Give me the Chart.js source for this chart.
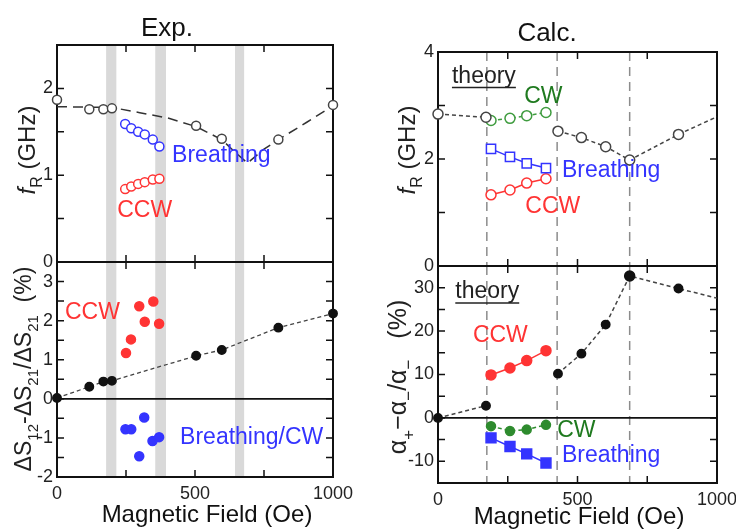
<!DOCTYPE html>
<html>
<head>
<meta charset="utf-8">
<script src="https://cdn.jsdelivr.net/npm/chart.js@4.4.1/dist/chart.umd.min.js"></script>
<style>
  html, body { margin: 0; padding: 0; background: #fff; }
  #wrap { position: relative; width: 736px; height: 530px; overflow: hidden; }
  canvas { position: absolute; left: 0; top: 0; }
</style>
</head>
<body>
<div id="wrap">
  <canvas id="expFr" width="736" height="530"></canvas>
  <canvas id="expAsym" width="736" height="530"></canvas>
  <canvas id="calcFr" width="736" height="530"></canvas>
  <canvas id="calcAsym" width="736" height="530"></canvas>
</div>
<script>
// ---- Exp. : resonance frequency (GHz) ----
const expField = [0, 117, 168, 199, 504, 597, 802, 1000];
const expFr = [1.87, 1.76, 1.76, 1.77, 1.57, 1.42, 1.41, 1.81];
const expGuideField = [0, 200, 300, 400, 504, 597, 640, 690, 750, 802, 905, 1000];
const expGuideFr = [1.79, 1.78, 1.72, 1.66, 1.56, 1.41, 1.28, 1.14, 1.30, 1.41, 1.61, 1.80];
const expModeField = [247, 269, 294, 318, 347, 371];
const expBreathFr = [1.59, 1.54, 1.50, 1.47, 1.41, 1.33];
const expCcwFr = [0.84, 0.87, 0.90, 0.92, 0.95, 0.96];

// ---- Exp. : nonreciprocity (%) ----
const expAsym = [0.02, 0.31, 0.44, 0.46, 1.10, 1.25, 1.82, 2.18];
const expCcwAsymField = [250, 268, 298, 318, 349, 370];
const expCcwAsym = [1.17, 1.52, 2.37, 1.97, 2.49, 1.92];
const expBreathAsymField = [248, 269, 298, 316, 346, 370];
const expBreathAsym = [-0.78, -0.78, -1.47, -0.48, -1.08, -0.98];

// ---- Calc. ----
const calcLowField = [0, 172];
const calcHighField = [430, 514, 601, 687, 862, 1000];
const calcFrLow = [2.84, 2.78];
const calcFrHigh = [2.52, 2.40, 2.23, 1.98, 2.46, 2.79];
const calcAsymLow = [0, 2.8];
const calcAsymHigh = [10.2, 14.8, 21.5, 32.7, 29.8, 27.6];
const calcModeField = [190, 258, 318, 387];
const calcCwFr = [2.72, 2.76, 2.81, 2.87];
const calcBreathFr = [2.19, 2.04, 1.92, 1.83];
const calcCcwFr = [1.33, 1.42, 1.55, 1.63];
const calcCcwAsym = [9.9, 11.5, 13.2, 15.5];
const calcCwAsym = [-1.9, -3.0, -2.7, -1.6];
const calcBreathAsym = [-4.6, -6.6, -8.3, -10.4];

// shaded field ranges (Exp.) and transition lines (Calc.)
const expBands = [[178, 215], [356, 395], [645, 678]];
const calcTransitions = [175, 427, 687];

const FONT = '"Liberation Sans", Arial, Helvetica, sans-serif';
const W = 736, H = 530;
const BLUE = '#3434ff', RED = '#ff3434', GREEN = '#3f9c3f', DKGREEN = '#1f7a1f';

Chart.defaults.font.family = FONT;

function pts(xs, ys) {
  return xs.map((x, i) => ({ x: x, y: ys[i] }));
}

function marks(data, color, opts) {
  return Object.assign({
    data: data,
    showLine: false,
    pointStyle: 'circle',
    pointRadius: 4.5,
    pointBorderWidth: 1.5,
    pointBorderColor: color,
    pointBackgroundColor: color,
    borderColor: color,
    borderWidth: 1.5,
    clip: false,
    order: 1
  }, opts || {});
}

function richText(ctx, parts, x, y, size, rotate) {
  ctx.save();
  ctx.translate(x, y);
  if (rotate) ctx.rotate(-Math.PI / 2);
  ctx.textBaseline = 'alphabetic';
  ctx.textAlign = 'left';
  const fontOf = p => (p.it ? 'italic ' : '') + (p.sub ? Math.round(size * 0.66) : size) + 'px ' + FONT;
  let total = 0;
  parts.forEach(p => { ctx.font = fontOf(p); total += ctx.measureText(p.t).width; });
  let cx = -total / 2;
  parts.forEach(p => {
    ctx.font = fontOf(p);
    ctx.fillText(p.t, cx, p.sub ? size * 0.3 : 0);
    cx += ctx.measureText(p.t).width;
  });
  ctx.restore();
}

function deco(cfg) {
  return {
    id: 'deco',
    beforeDatasetsDraw(chart) {
      const ctx = chart.ctx, a = chart.chartArea, x = chart.scales.x, y = chart.scales.y;
      ctx.save();
      ctx.fillStyle = '#d9d9d9';
      (cfg.bands || []).forEach(b => {
        const x0 = x.getPixelForValue(b[0]), x1 = x.getPixelForValue(b[1]);
        ctx.fillRect(x0, a.top, x1 - x0, a.bottom - a.top);
      });
      ctx.strokeStyle = '#8c8c8c';
      ctx.lineWidth = 1.5;
      ctx.setLineDash([9, 6]);
      (cfg.vlines || []).forEach(v => {
        const px = x.getPixelForValue(v);
        ctx.beginPath(); ctx.moveTo(px, a.top); ctx.lineTo(px, a.bottom); ctx.stroke();
      });
      ctx.setLineDash([]);
      ctx.strokeStyle = '#111';
      if (cfg.zero) {
        const py = y.getPixelForValue(0);
        ctx.lineWidth = 1.8;
        ctx.beginPath(); ctx.moveTo(a.left, py); ctx.lineTo(a.right, py); ctx.stroke();
      }
      ctx.lineWidth = 2;
      ctx.strokeRect(a.left, a.top, a.right - a.left, a.bottom - a.top);
      ctx.lineWidth = 1.5;
      const tl = 7;
      y.ticks.forEach(t => {
        if (t.value <= y.min || t.value >= y.max) return;
        const py = y.getPixelForValue(t.value);
        ctx.beginPath();
        ctx.moveTo(a.left, py); ctx.lineTo(a.left + tl, py);
        ctx.moveTo(a.right, py); ctx.lineTo(a.right - tl, py);
        ctx.stroke();
      });
      x.ticks.forEach(t => {
        if (t.value <= x.min || t.value >= x.max) return;
        const px = x.getPixelForValue(t.value);
        ctx.beginPath();
        ctx.moveTo(px, a.top); ctx.lineTo(px, a.top + tl);
        ctx.moveTo(px, a.bottom); ctx.lineTo(px, a.bottom - tl);
        ctx.stroke();
      });
      ctx.restore();
    },
    afterDatasetsDraw(chart) {
      const ctx = chart.ctx, x = chart.scales.x, y = chart.scales.y;
      ctx.save();
      ctx.textBaseline = 'middle';
      ctx.textAlign = 'left';
      (cfg.notes || []).forEach(n => {
        const px = x.getPixelForValue(n.x), py = y.getPixelForValue(n.y);
        ctx.font = '23px ' + FONT;
        ctx.fillStyle = n.color;
        ctx.fillText(n.t, px, py);
        if (n.underline) {
          const w = ctx.measureText(n.t).width;
          ctx.strokeStyle = n.color;
          ctx.lineWidth = 1.5;
          ctx.beginPath(); ctx.moveTo(px, py + 11); ctx.lineTo(px + w, py + 11); ctx.stroke();
        }
      });
      ctx.fillStyle = '#111';
      ctx.textAlign = 'center';
      (cfg.captions || []).forEach(c => {
        ctx.font = c.size + 'px ' + FONT;
        ctx.fillText(c.t, c.x, c.y);
      });
      if (cfg.yTitle) {
        ctx.fillStyle = '#222';
        richText(ctx, cfg.yTitle.parts, cfg.yTitle.x, cfg.yTitle.y, cfg.yTitle.size, true);
      }
      ctx.restore();
    }
  };
}

function makePanel(id, box, cfg) {
  const yw = 40;
  const xh = cfg.showX ? 30 : 0;
  return new Chart(document.getElementById(id), {
    type: 'scatter',
    data: { datasets: cfg.datasets },
    options: {
      responsive: false,
      animation: false,
      devicePixelRatio: 1,
      layout: { padding: { left: box.l - yw, top: box.t, right: W - box.r, bottom: H - box.b - xh } },
      plugins: { legend: { display: false }, tooltip: { enabled: false } },
      elements: { line: { tension: 0 } },
      scales: {
        x: {
          type: 'linear', min: 0, max: 1000, display: cfg.showX,
          grid: { display: false, drawTicks: false }, border: { display: false },
          ticks: {
            stepSize: 250, autoSkip: false, maxRotation: 0, padding: 6,
            color: '#222', font: { size: 18 },
            callback: v => (v % 500 === 0 ? String(v) : '')
          },
          afterFit: s => { s.height = xh; s.paddingLeft = 0; s.paddingRight = 0; }
        },
        y: {
          type: 'linear', min: cfg.yMin, max: cfg.yMax,
          grid: { display: false, drawTicks: false }, border: { display: false },
          ticks: {
            stepSize: cfg.yStep, autoSkip: false, padding: 4,
            color: '#222', font: { size: 18 },
            callback: v => (Math.abs(v % cfg.yLabelStep) < 1e-9 ? String(v) : '')
          },
          afterFit: s => { s.width = yw; s.paddingTop = 0; s.paddingBottom = 0; }
        }
      }
    },
    plugins: [deco(cfg)]
  });
}

// ---------- Exp. f_R ----------
makePanel('expFr', { l: 57, t: 45, r: 333, b: 262 }, {
  showX: false, yMin: 0, yMax: 2.5, yStep: 0.5, yLabelStep: 1,
  bands: expBands,
  datasets: [
    marks(pts(expGuideField, expGuideFr), '#333', { showLine: true, pointRadius: 0, borderDash: [10, 6], order: 3 }),
    marks(pts(expField, expFr), '#444', { pointBackgroundColor: '#fff', pointRadius: 4.5 }),
    marks(pts(expModeField, expBreathFr), BLUE, { pointBackgroundColor: '#fff' }),
    marks(pts(expModeField, expCcwFr), RED, { pointBackgroundColor: '#fff' })
  ],
  notes: [
    { t: 'Breathing', x: 417, y: 1.23, color: BLUE },
    { t: 'CCW', x: 218, y: 0.59, color: RED }
  ],
  captions: [{ t: 'Exp.', x: 167, y: 29, size: 26 }],
  yTitle: { x: 35, y: 150, size: 24, parts: [{ t: 'f', it: true }, { t: 'R', sub: true }, { t: ' (GHz)' }] }
});

// ---------- Exp. nonreciprocity ----------
makePanel('expAsym', { l: 57, t: 262, r: 333, b: 477 }, {
  showX: true, yMin: -2, yMax: 3.5, yStep: 0.5, yLabelStep: 1,
  bands: expBands, zero: true,
  datasets: [
    marks(pts(expField, expAsym), '#111', { showLine: true, borderColor: '#444', borderWidth: 1.3, borderDash: [4, 3], pointRadius: 4.2 }),
    marks(pts(expCcwAsymField, expCcwAsym), RED),
    marks(pts(expBreathAsymField, expBreathAsym), BLUE)
  ],
  notes: [
    { t: 'CCW', x: 29, y: 2.21, color: RED },
    { t: 'Breathing/CW', x: 446, y: -1.0, color: BLUE }
  ],
  captions: [{ t: 'Magnetic Field (Oe)', x: 207, y: 515, size: 24 }],
  yTitle: { x: 31, y: 369, size: 23, parts: [
    { t: 'ΔS' }, { t: '12', sub: true }, { t: '-ΔS' }, { t: '21', sub: true },
    { t: '/ΔS' }, { t: '21', sub: true }, { t: '  (%)' }] }
});

// ---------- Calc. f_R ----------
makePanel('calcFr', { l: 438, t: 52, r: 717, b: 266 }, {
  showX: false, yMin: 0, yMax: 4, yStep: 1, yLabelStep: 2,
  vlines: calcTransitions,
  datasets: [
    marks(pts(calcLowField, calcFrLow), '#444', { showLine: true, borderDash: [4, 3], pointBackgroundColor: '#fff', pointRadius: 5 }),
    marks(pts(calcHighField, calcFrHigh), '#444', { showLine: true, borderDash: [4, 3], pointBackgroundColor: '#fff', pointRadius: [5, 5, 5, 5, 5, 0] }),
    marks(pts(calcModeField, calcCwFr), GREEN, { showLine: true, borderDash: [4, 3], pointBackgroundColor: '#fff', pointRadius: 5 }),
    marks(pts(calcModeField, calcBreathFr), BLUE, { showLine: true, pointStyle: 'rect', pointBackgroundColor: '#fff', pointRadius: 6.5 }),
    marks(pts(calcModeField, calcCcwFr), RED, { showLine: true, pointBackgroundColor: '#fff', pointRadius: 5 })
  ],
  notes: [
    { t: 'theory', x: 50, y: 3.54, color: '#222', underline: true },
    { t: 'CW', x: 309, y: 3.16, color: DKGREEN },
    { t: 'Breathing', x: 444, y: 1.79, color: BLUE },
    { t: 'CCW', x: 313, y: 1.11, color: RED }
  ],
  captions: [{ t: 'Calc.', x: 547, y: 34, size: 26 }],
  yTitle: { x: 415, y: 150, size: 24, parts: [{ t: 'f', it: true }, { t: 'R', sub: true }, { t: ' (GHz)' }] }
});

// ---------- Calc. nonreciprocity ----------
makePanel('calcAsym', { l: 438, t: 266, r: 717, b: 483 }, {
  showX: true, yMin: -15, yMax: 35, yStep: 5, yLabelStep: 10,
  vlines: calcTransitions, zero: true,
  datasets: [
    marks(pts(calcLowField, calcAsymLow), '#111', { showLine: true, borderColor: '#444', borderDash: [4, 3], pointRadius: 4.2 }),
    marks(pts(calcHighField, calcAsymHigh), '#111', { showLine: true, borderColor: '#444', borderDash: [4, 3], pointRadius: [4.2, 4.2, 4.2, 5, 4.2, 0] }),
    marks(pts(calcModeField, calcCcwAsym), RED, { showLine: true, pointRadius: 5 }),
    marks(pts(calcModeField, calcCwAsym), '#2e8b2e', { showLine: true, borderDash: [4, 3], pointRadius: 4.5 }),
    marks(pts(calcModeField, calcBreathAsym), BLUE, { showLine: true, pointStyle: 'rect', pointRadius: 7 })
  ],
  notes: [
    { t: 'theory', x: 62, y: 29.0, color: '#222', underline: true },
    { t: 'CCW', x: 125, y: 19.0, color: RED },
    { t: 'CW', x: 427, y: -2.9, color: DKGREEN },
    { t: 'Breathing', x: 444, y: -8.7, color: BLUE }
  ],
  captions: [{ t: 'Magnetic Field (Oe)', x: 579, y: 517, size: 24 }],
  yTitle: { x: 406, y: 377, size: 25, parts: [
    { t: 'α' }, { t: '+', sub: true }, { t: '−α' }, { t: '−', sub: true },
    { t: '/α' }, { t: '−', sub: true }, { t: '   (%)' }] }
});
</script>
</body>
</html>
